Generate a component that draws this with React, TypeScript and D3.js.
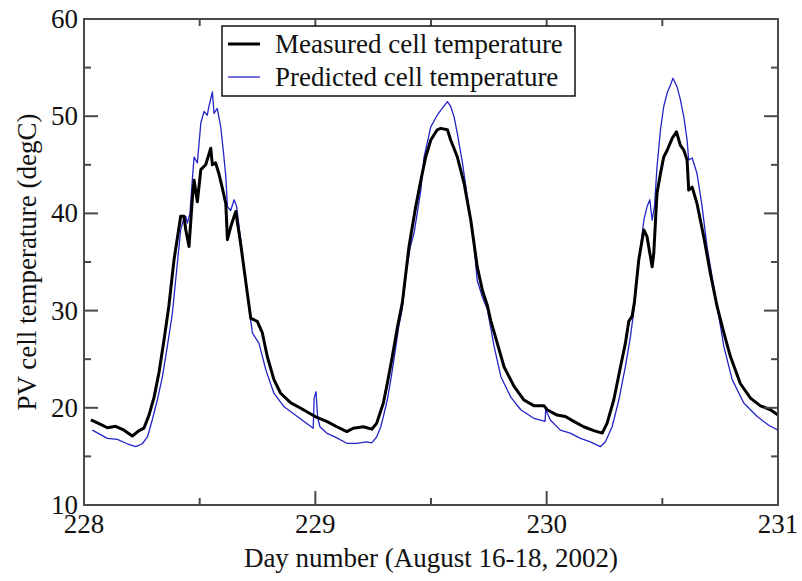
import { useRef, useEffect } from 'react'
import * as d3 from 'd3'

const WIDTH = 802
const HEIGHT = 581
const MARGIN = { top: 19, right: 24, bottom: 76, left: 84 }
const FONT = '"Liberation Serif", "Times New Roman", serif'

const xMajor = [228, 229, 230, 231]
const xMinor = [228.5, 229.5, 230.5]
const yMajor = [10, 20, 30, 40, 50, 60]
const yMinor = [15, 25, 35, 45, 55]

const seriesNames = ['Measured cell temperature', 'Predicted cell temperature']
const seriesColors = ['#000000', '#2424c8']

// [day, degC]
const measured: [number, number][] = [
  [228.03, 18.75], [228.072, 18.3], [228.101, 17.95], [228.137, 18.1], [228.173, 17.7],
  [228.209, 17.1], [228.238, 17.65], [228.259, 17.9], [228.281, 19.25], [228.303, 21.1],
  [228.324, 23.6], [228.346, 27.0], [228.367, 30.5], [228.389, 35.2], [228.418, 39.7],
  [228.432, 39.7], [228.44, 38.3], [228.454, 36.6], [228.468, 41.4], [228.476, 43.4],
  [228.49, 41.2], [228.505, 44.5], [228.526, 45.0], [228.548, 46.7], [228.555, 45.0],
  [228.569, 45.2], [228.584, 44.0], [228.598, 42.6], [228.613, 41.0], [228.62, 37.3],
  [228.634, 38.6], [228.656, 40.2], [228.677, 36.9], [228.706, 31.8], [228.721, 29.2],
  [228.749, 28.9], [228.771, 27.7], [228.792, 25.3], [228.821, 22.9], [228.85, 21.5],
  [228.894, 20.5], [228.937, 19.95], [228.999, 19.1], [229.049, 18.6], [229.093, 18.05],
  [229.136, 17.55], [229.164, 17.9], [229.208, 18.05], [229.244, 17.8], [229.265, 18.4],
  [229.294, 20.5], [229.311, 22.5], [229.333, 25.3], [229.355, 28.3], [229.376, 30.8],
  [229.405, 36.6], [229.434, 40.7], [229.456, 43.4], [229.477, 45.8], [229.499, 47.55],
  [229.527, 48.6], [229.542, 48.75], [229.571, 48.6], [229.585, 47.55], [229.614, 45.8],
  [229.643, 43.1], [229.672, 39.3], [229.7, 34.5], [229.722, 32.1], [229.744, 30.5],
  [229.758, 29.0], [229.787, 26.6], [229.816, 24.2], [229.859, 22.2], [229.902, 20.8],
  [229.946, 20.2], [229.989, 20.2], [230.002, 19.8], [230.045, 19.25], [230.081, 19.1],
  [230.117, 18.6], [230.16, 18.05], [230.204, 17.65], [230.24, 17.4], [230.261, 18.4],
  [230.29, 20.8], [230.319, 24.2], [230.34, 26.6], [230.355, 28.9], [230.369, 29.4],
  [230.379, 30.8], [230.398, 35.2], [230.42, 38.3], [230.434, 37.6], [230.441, 36.6],
  [230.456, 34.5], [230.463, 35.9], [230.477, 42.1], [230.492, 44.1], [230.506, 45.8],
  [230.521, 46.5], [230.542, 47.7], [230.561, 48.4], [230.578, 47.0], [230.593, 46.5],
  [230.607, 45.5], [230.614, 42.4], [230.629, 42.7], [230.65, 41.0], [230.679, 37.6],
  [230.708, 33.8], [230.737, 30.4], [230.766, 27.7], [230.794, 25.3], [230.837, 22.5],
  [230.881, 21.0], [230.924, 20.2], [230.967, 19.8], [231.0, 19.25],
]

const predicted: [number, number][] = [
  [228.036, 17.7], [228.101, 16.85], [228.144, 16.75], [228.187, 16.3], [228.224, 16.0],
  [228.252, 16.3], [228.274, 17.0], [228.295, 18.75], [228.317, 20.8], [228.339, 23.2],
  [228.36, 26.3], [228.382, 29.7], [228.396, 33.1], [228.418, 38.3], [228.429, 39.3],
  [228.44, 39.7], [228.447, 39.0], [228.458, 40.0], [228.468, 43.4], [228.476, 45.8],
  [228.49, 45.2], [228.505, 49.3], [228.519, 50.5], [228.533, 50.1], [228.54, 51.0],
  [228.555, 52.5], [228.562, 50.3], [228.576, 50.8], [228.591, 48.9], [228.602, 46.5],
  [228.613, 43.8], [228.62, 40.7], [228.634, 40.3], [228.649, 41.4], [228.66, 40.7],
  [228.677, 37.3], [228.713, 30.3], [228.728, 27.7], [228.757, 26.6], [228.786, 23.9],
  [228.821, 21.5], [228.865, 20.1], [228.922, 19.1], [228.991, 17.9], [228.995, 21.0],
  [229.003, 21.65], [229.01, 19.0], [229.02, 18.05], [229.049, 17.4], [229.093, 16.9],
  [229.136, 16.35], [229.179, 16.35], [229.222, 16.5], [229.244, 16.4], [229.265, 17.0],
  [229.283, 18.05], [229.294, 19.1], [229.311, 20.8], [229.327, 23.0], [229.345, 25.8],
  [229.36, 28.3], [229.375, 30.1], [229.392, 33.8], [229.41, 36.5], [229.427, 38.0],
  [229.456, 42.4], [229.47, 45.8], [229.499, 48.9], [229.527, 50.1], [229.542, 50.6],
  [229.571, 51.5], [229.585, 51.0], [229.6, 49.9], [229.614, 48.2], [229.636, 45.2],
  [229.657, 41.7], [229.679, 38.3], [229.7, 33.1], [229.722, 31.4], [229.744, 30.1],
  [229.773, 26.3], [229.802, 23.2], [229.845, 21.1], [229.888, 19.8], [229.946, 18.9],
  [229.993, 18.6], [229.996, 19.8], [230.016, 18.75], [230.059, 17.7], [230.102, 17.4],
  [230.146, 16.85], [230.189, 16.5], [230.232, 16.0], [230.254, 16.5], [230.283, 18.05],
  [230.312, 20.8], [230.34, 24.2], [230.362, 27.3], [230.379, 30.4], [230.391, 33.5],
  [230.42, 39.3], [230.434, 40.7], [230.446, 41.4], [230.456, 39.3], [230.466, 40.7],
  [230.477, 44.8], [230.492, 48.6], [230.506, 51.0], [230.521, 52.4], [230.535, 53.2],
  [230.546, 53.9], [230.564, 53.0], [230.578, 51.7], [230.593, 49.9], [230.607, 47.55],
  [230.614, 45.5], [230.629, 45.7], [230.65, 44.1], [230.672, 40.7], [230.693, 36.6],
  [230.722, 32.5], [230.737, 30.4], [230.766, 26.3], [230.802, 22.9], [230.852, 20.5],
  [230.91, 19.1], [230.96, 18.2], [231.0, 17.7],
]

function TemperatureChart() {
  const svgRef = useRef<SVGSVGElement>(null)

  useEffect(() => {
    if (!svgRef.current) return
    const svg = d3.select(svgRef.current)
    svg.selectAll('*').remove()

    const innerWidth = WIDTH - MARGIN.left - MARGIN.right
    const innerHeight = HEIGHT - MARGIN.top - MARGIN.bottom

    const x = d3.scaleLinear().domain([228, 231]).range([0, innerWidth])
    const y = d3.scaleLinear().domain([10, 60]).range([innerHeight, 0])

    const g = svg.append('g').attr('transform', `translate(${MARGIN.left},${MARGIN.top})`)

    const line = d3
      .line<[number, number]>()
      .x((d) => x(d[0]))
      .y((d) => y(d[1]))

    g.append('path')
      .datum(predicted)
      .attr('d', line)
      .attr('fill', 'none')
      .attr('stroke', seriesColors[1])
      .attr('stroke-width', 1.3)
      .attr('stroke-linejoin', 'round')

    g.append('path')
      .datum(measured)
      .attr('d', line)
      .attr('fill', 'none')
      .attr('stroke', seriesColors[0])
      .attr('stroke-width', 3)
      .attr('stroke-linejoin', 'round')

    // frame with inward ticks on all four sides
    const axisColor = '#4a4a4a'
    const tickLine = (x1: number, y1: number, x2: number, y2: number) =>
      g.append('line')
        .attr('x1', x1).attr('y1', y1).attr('x2', x2).attr('y2', y2)
        .attr('stroke', axisColor).attr('stroke-width', 2)

    for (const v of xMajor) {
      tickLine(x(v), innerHeight, x(v), innerHeight - 14)
      tickLine(x(v), 0, x(v), 14)
    }
    for (const v of xMinor) {
      tickLine(x(v), innerHeight, x(v), innerHeight - 7)
      tickLine(x(v), 0, x(v), 7)
    }
    for (const v of yMajor) {
      tickLine(0, y(v), 14, y(v))
      tickLine(innerWidth, y(v), innerWidth - 14, y(v))
    }
    for (const v of yMinor) {
      tickLine(0, y(v), 7, y(v))
      tickLine(innerWidth, y(v), innerWidth - 7, y(v))
    }

    g.append('rect')
      .attr('width', innerWidth)
      .attr('height', innerHeight)
      .attr('fill', 'none')
      .attr('stroke', axisColor)
      .attr('stroke-width', 2)

    // tick labels
    g.selectAll('text.xl')
      .data(xMajor)
      .join('text')
      .attr('class', 'xl')
      .attr('x', (d) => x(d))
      .attr('y', innerHeight + 28)
      .attr('text-anchor', 'middle')
      .style('font-family', FONT)
      .style('font-size', '27px')
      .attr('fill', '#111')
      .text((d) => String(d))

    g.selectAll('text.yl')
      .data(yMajor)
      .join('text')
      .attr('class', 'yl')
      .attr('x', -6)
      .attr('y', (d) => y(d) + 9)
      .attr('text-anchor', 'end')
      .style('font-family', FONT)
      .style('font-size', '27px')
      .attr('fill', '#111')
      .text((d) => String(d))

    // axis titles
    svg.append('text')
      .attr('x', MARGIN.left + innerWidth / 2)
      .attr('y', 567)
      .attr('text-anchor', 'middle')
      .style('font-family', FONT)
      .style('font-size', '27px')
      .attr('fill', '#111')
      .text('Day number (August 16-18, 2002)')

    svg.append('text')
      .attr('transform', `translate(36,${MARGIN.top + innerHeight / 2}) rotate(-90)`)
      .attr('text-anchor', 'middle')
      .style('font-family', FONT)
      .style('font-size', '27px')
      .attr('fill', '#111')
      .text('PV cell temperature (degC)')

    // legend
    const legend = svg.append('g').attr('transform', 'translate(222,26)')
    legend.append('rect')
      .attr('width', 353)
      .attr('height', 70)
      .attr('fill', '#fff')
      .attr('stroke', '#111')
      .attr('stroke-width', 1.5)
    seriesNames.forEach((name, i) => {
      const cy = 18 + i * 33
      legend.append('line')
        .attr('x1', 6).attr('x2', 38).attr('y1', cy).attr('y2', cy)
        .attr('stroke', seriesColors[i])
        .attr('stroke-width', i === 0 ? 3 : 1.3)
      legend.append('text')
        .attr('x', 53)
        .attr('y', cy + 9)
        .style('font-family', FONT)
        .style('font-size', '27px')
        .attr('fill', '#111')
        .text(name)
    })
  }, [])

  return (
    <svg
      ref={svgRef}
      width={WIDTH}
      height={HEIGHT}
      style={{ position: 'absolute', left: 0, top: 0, background: '#fff' }}
    />
  )
}

export default function App() {
  return <TemperatureChart />
}
